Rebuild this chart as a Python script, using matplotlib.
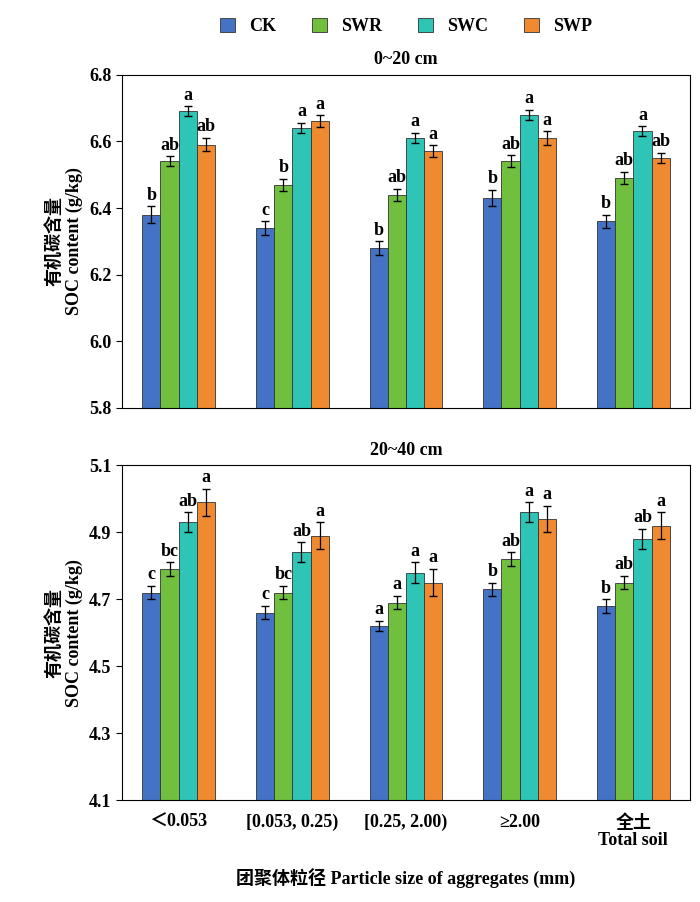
import numpy as np
import matplotlib.pyplot as plt

plt.rcParams['font.family'] = ['Liberation Serif', 'Noto Sans CJK SC']
plt.rcParams['font.size'] = 13

groups = ["＜0.053", "[0.053, 0.25)", "[0.25, 2.00)", "≥2.00", "全土\nTotal soil"]
series = ["CK", "SWR", "SWC", "SWP"]
colors = ["#4472C4", "#70BF3F", "#2EC4B6", "#F08A30"]

top_vals = [[6.38, 6.34, 6.28, 6.43, 6.36],
            [6.54, 6.47, 6.44, 6.54, 6.49],
            [6.69, 6.64, 6.61, 6.68, 6.63],
            [6.59, 6.66, 6.57, 6.61, 6.55]]
top_err = [[0.025, 0.02, 0.02, 0.025, 0.02],
           [0.015, 0.018, 0.018, 0.018, 0.018],
           [0.015, 0.015, 0.015, 0.015, 0.015],
           [0.02, 0.018, 0.018, 0.02, 0.015]]
top_letters = [["b", "c", "b", "b", "b"],
               ["ab", "b", "ab", "ab", "ab"],
               ["a", "a", "a", "a", "a"],
               ["ab", "a", "a", "a", "ab"]]

bot_vals = [[4.72, 4.66, 4.62, 4.73, 4.68],
            [4.79, 4.72, 4.69, 4.82, 4.75],
            [4.93, 4.84, 4.78, 4.96, 4.88],
            [4.99, 4.89, 4.75, 4.94, 4.92]]
bot_err = [[0.02, 0.02, 0.015, 0.02, 0.02],
           [0.02, 0.02, 0.02, 0.02, 0.02],
           [0.03, 0.03, 0.03, 0.03, 0.03],
           [0.04, 0.04, 0.04, 0.04, 0.04]]
bot_letters = [["c", "c", "a", "b", "b"],
               ["bc", "bc", "a", "ab", "ab"],
               ["ab", "ab", "a", "a", "ab"],
               ["a", "a", "a", "a", "a"]]

fig = plt.figure(figsize=(7, 9.02), dpi=100)
ax1 = fig.add_axes([0.174, 0.548, 0.812, 0.369])
ax2 = fig.add_axes([0.174, 0.113, 0.812, 0.371])

x = np.arange(len(groups))
w = 0.16


def draw(ax, vals, errs, letters, ylim, ticks, title, off):
    for i in range(4):
        xs = x + (i - 1.5) * w
        ax.bar(xs, vals[i], w, color=colors[i], edgecolor="#333333", linewidth=0.6,
               yerr=errs[i], capsize=3, error_kw=dict(elinewidth=0.9, ecolor="black"),
               label=series[i])
        for xx, v, e, t in zip(xs, vals[i], errs[i], letters[i]):
            ax.text(xx, v + e + off, t, ha="center", va="bottom", fontsize=13, fontweight="bold")
    ax.set_ylim(*ylim)
    ax.set_yticks(ticks)
    ax.set_yticklabels([f"{t:.1f}" for t in ticks], fontweight="bold", fontsize=13)
    ax.set_xlim(-0.5, len(groups) - 0.5)
    ax.tick_params(axis="x", length=0)
    ax.tick_params(axis="y", direction="out", length=4)
    ax.set_ylabel("有机碳含量\nSOC content (g/kg)", fontsize=13, fontweight="bold")
    ax.text(0.5, 1.02, title, transform=ax.transAxes, ha="center", va="bottom",
            fontsize=13, fontweight="bold")


draw(ax1, top_vals, top_err, top_letters, (5.8, 6.8), np.arange(5.8, 6.81, 0.2), "0~20 cm", 0.008)
ax1.set_xticks([])
draw(ax2, bot_vals, bot_err, bot_letters, (4.1, 5.1), np.arange(4.1, 5.11, 0.2), "20~40 cm", 0.008)
ax2.set_xticks(x)
ax2.set_xticklabels(groups, fontsize=13, fontweight="bold", va="top", linespacing=1.0)
ax2.tick_params(axis="x", pad=10)
ax2.set_xlabel("团聚体粒径 Particle size of aggregates (mm)", fontsize=13, fontweight="bold",
               labelpad=14)

ax1.legend(loc="lower center", bbox_to_anchor=(0.5, 1.07), ncol=4, frameon=False,
           prop={"weight": "bold", "size": 13}, handlelength=0.8, handleheight=0.8,
           columnspacing=2.0)

fig.savefig("out.png", dpi=100)
